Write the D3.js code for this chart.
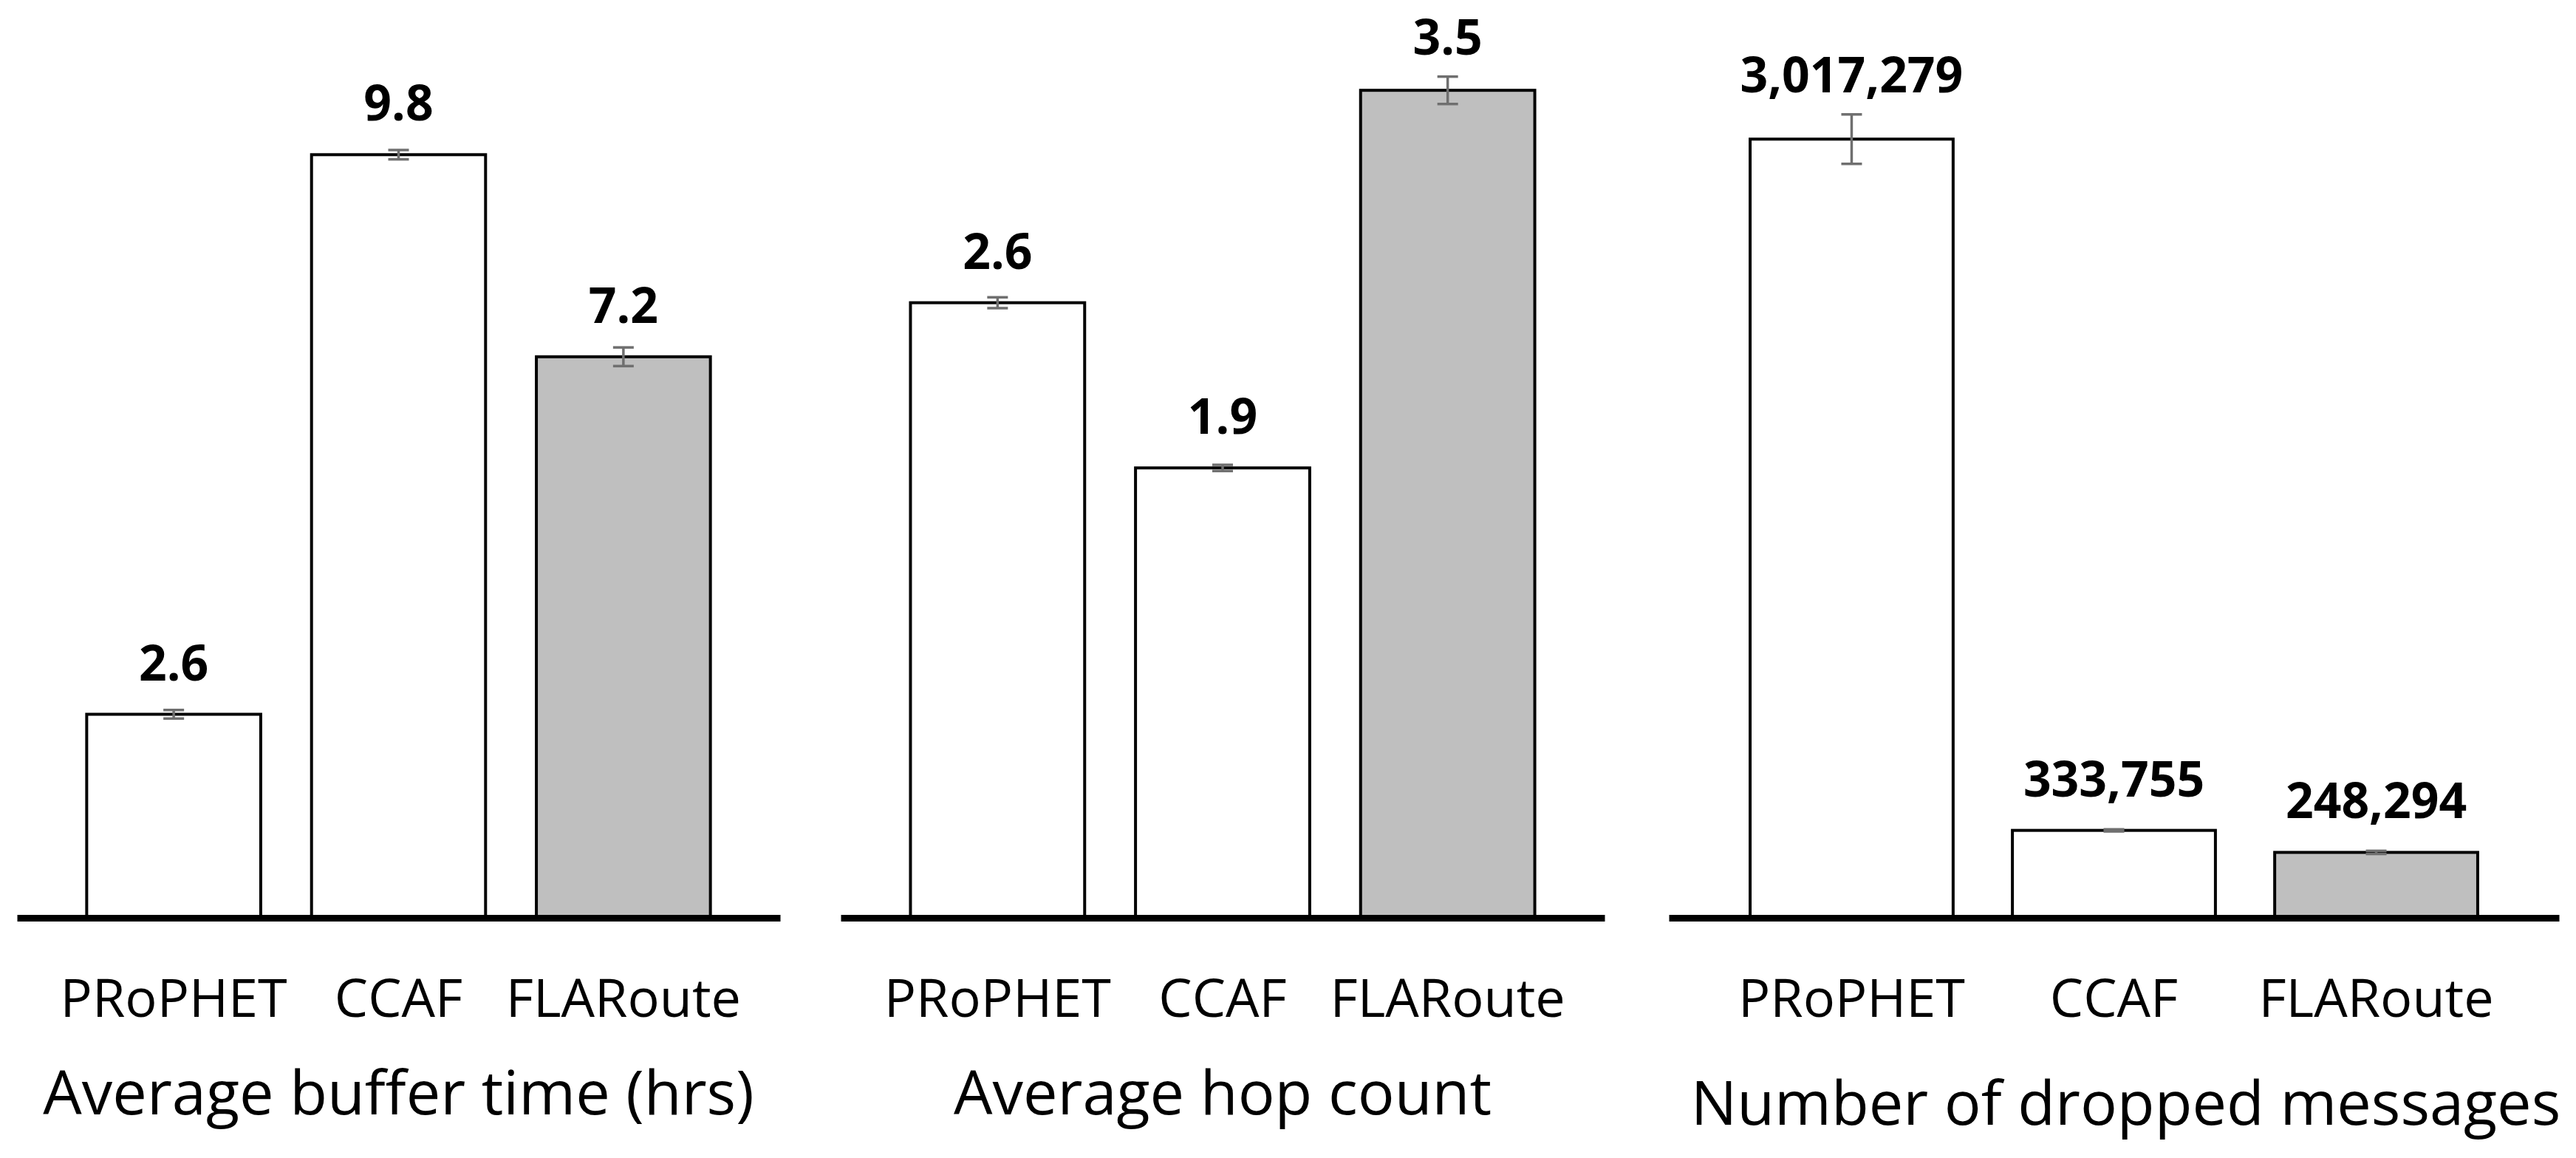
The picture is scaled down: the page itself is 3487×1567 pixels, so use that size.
<!DOCTYPE html>
<html>
<head>
<meta charset="utf-8">
<script src="https://cdn.jsdelivr.net/npm/d3@7"></script>
<style>
  html, body { margin: 0; padding: 0; background: #fff; }
  svg { display: block; font-family: "Open Sans", "Noto Sans", sans-serif; }
</style>
</head>
<body>
<svg id="chart" width="3487" height="1567"></svg>
<script>
"use strict";

// chart values
const categories = ["PRoPHET", "CCAF", "FLARoute"];
const bufferTime = [2.6, 9.8, 7.2];
const bufferTimeErr = [0.055, 0.06, 0.12];
const hopCount = [2.6, 1.9, 3.5];
const hopCountErr = [0.023, 0.013, 0.058];
const droppedMsgs = [3017279, 333755, 248294];
const droppedMsgsErr = [96000, 4000, 6000];
const panelTitles = ["Average buffer time (hrs)", "Average hop count", "Number of dropped messages"];
const yMax = [11.6, 3.82, 3500000];
const barFills = ["#ffffff", "#ffffff", "#bfbfbf"];

const panels = [
  {values: bufferTime, errs: bufferTimeErr, fmt: d3.format(".1f"), x0: 23, x1: 1056, titleY: 1508},
  {values: hopCount, errs: hopCountErr, fmt: d3.format(".1f"), x0: 1138, x1: 2172, titleY: 1508},
  {values: droppedMsgs, errs: droppedMsgsErr, fmt: d3.format(","), x0: 2259, x1: 3464, titleY: 1522}
];

const svg = d3.select('#chart');
const baseY = 1240, topY = 20;

panels.forEach((p, k) => {
  const g = svg.append('g');
  const x = d3.scaleBand().domain(categories).range([p.x0, p.x1]).paddingInner(0.226).paddingOuter(0.31);
  const y = d3.scaleLinear().domain([0, yMax[k]]).range([baseY, topY]);
  const rows = categories.map((c, i) => ({c, i, v: p.values[i], e: p.errs[i]}));

  // bars
  g.selectAll('rect.bar').data(rows).enter().append('rect')
    .attr('class', 'bar')
    .attr('x', d => x(d.c))
    .attr('width', x.bandwidth())
    .attr('y', d => y(d.v))
    .attr('height', d => baseY - y(d.v))
    .attr('fill', d => barFills[d.i])
    .attr('stroke', '#000')
    .attr('stroke-width', 4);

  // error bars
  const cap = 14;
  const eb = g.selectAll('g.err').data(rows).enter().append('g')
    .attr('class', 'err')
    .attr('stroke', '#6f6f6f')
    .attr('stroke-width', 3.5);
  const cx = d => x(d.c) + x.bandwidth() / 2;
  eb.append('line').attr('x1', cx).attr('x2', cx).attr('y1', d => y(d.v + d.e)).attr('y2', d => y(d.v - d.e));
  eb.append('line').attr('x1', d => cx(d) - cap).attr('x2', d => cx(d) + cap).attr('y1', d => y(d.v + d.e)).attr('y2', d => y(d.v + d.e));
  eb.append('line').attr('x1', d => cx(d) - cap).attr('x2', d => cx(d) + cap).attr('y1', d => y(d.v - d.e)).attr('y2', d => y(d.v - d.e));

  // value labels above bar (or above error bar if it sticks out)
  g.selectAll('text.val').data(rows).enter().append('text')
    .attr('class', 'val')
    .attr('x', cx)
    .attr('y', d => Math.min(y(d.v) - 46, y(d.v + d.e) - 30))
    .attr('text-anchor', 'middle')
    .attr('font-size', 66)
    .attr('font-weight', 700)
    .attr('fill', '#000')
    .text(d => p.fmt(d.v));

  // category axis
  const ax = g.append('g')
    .attr('transform', `translate(0,${baseY + 2})`)
    .call(d3.axisBottom(x).tickSize(0).tickSizeOuter(0));
  ax.select('.domain').attr('stroke', '#000').attr('stroke-width', 9);
  ax.selectAll('.tick text')
    .attr('y', 134)
    .attr('dy', 0)
    .attr('font-size', 72)
    .attr('font-family', '"Open Sans", "Noto Sans", sans-serif')
    .attr('fill', '#000');

  // panel title
  g.append('text')
    .attr('x', (p.x0 + p.x1) / 2 + (k === 2 ? 16 : 0))
    .attr('y', p.titleY)
    .attr('text-anchor', 'middle')
    .attr('font-size', 83)
    .attr('fill', '#000')
    .text(panelTitles[k]);
});
</script>
</body>
</html>
